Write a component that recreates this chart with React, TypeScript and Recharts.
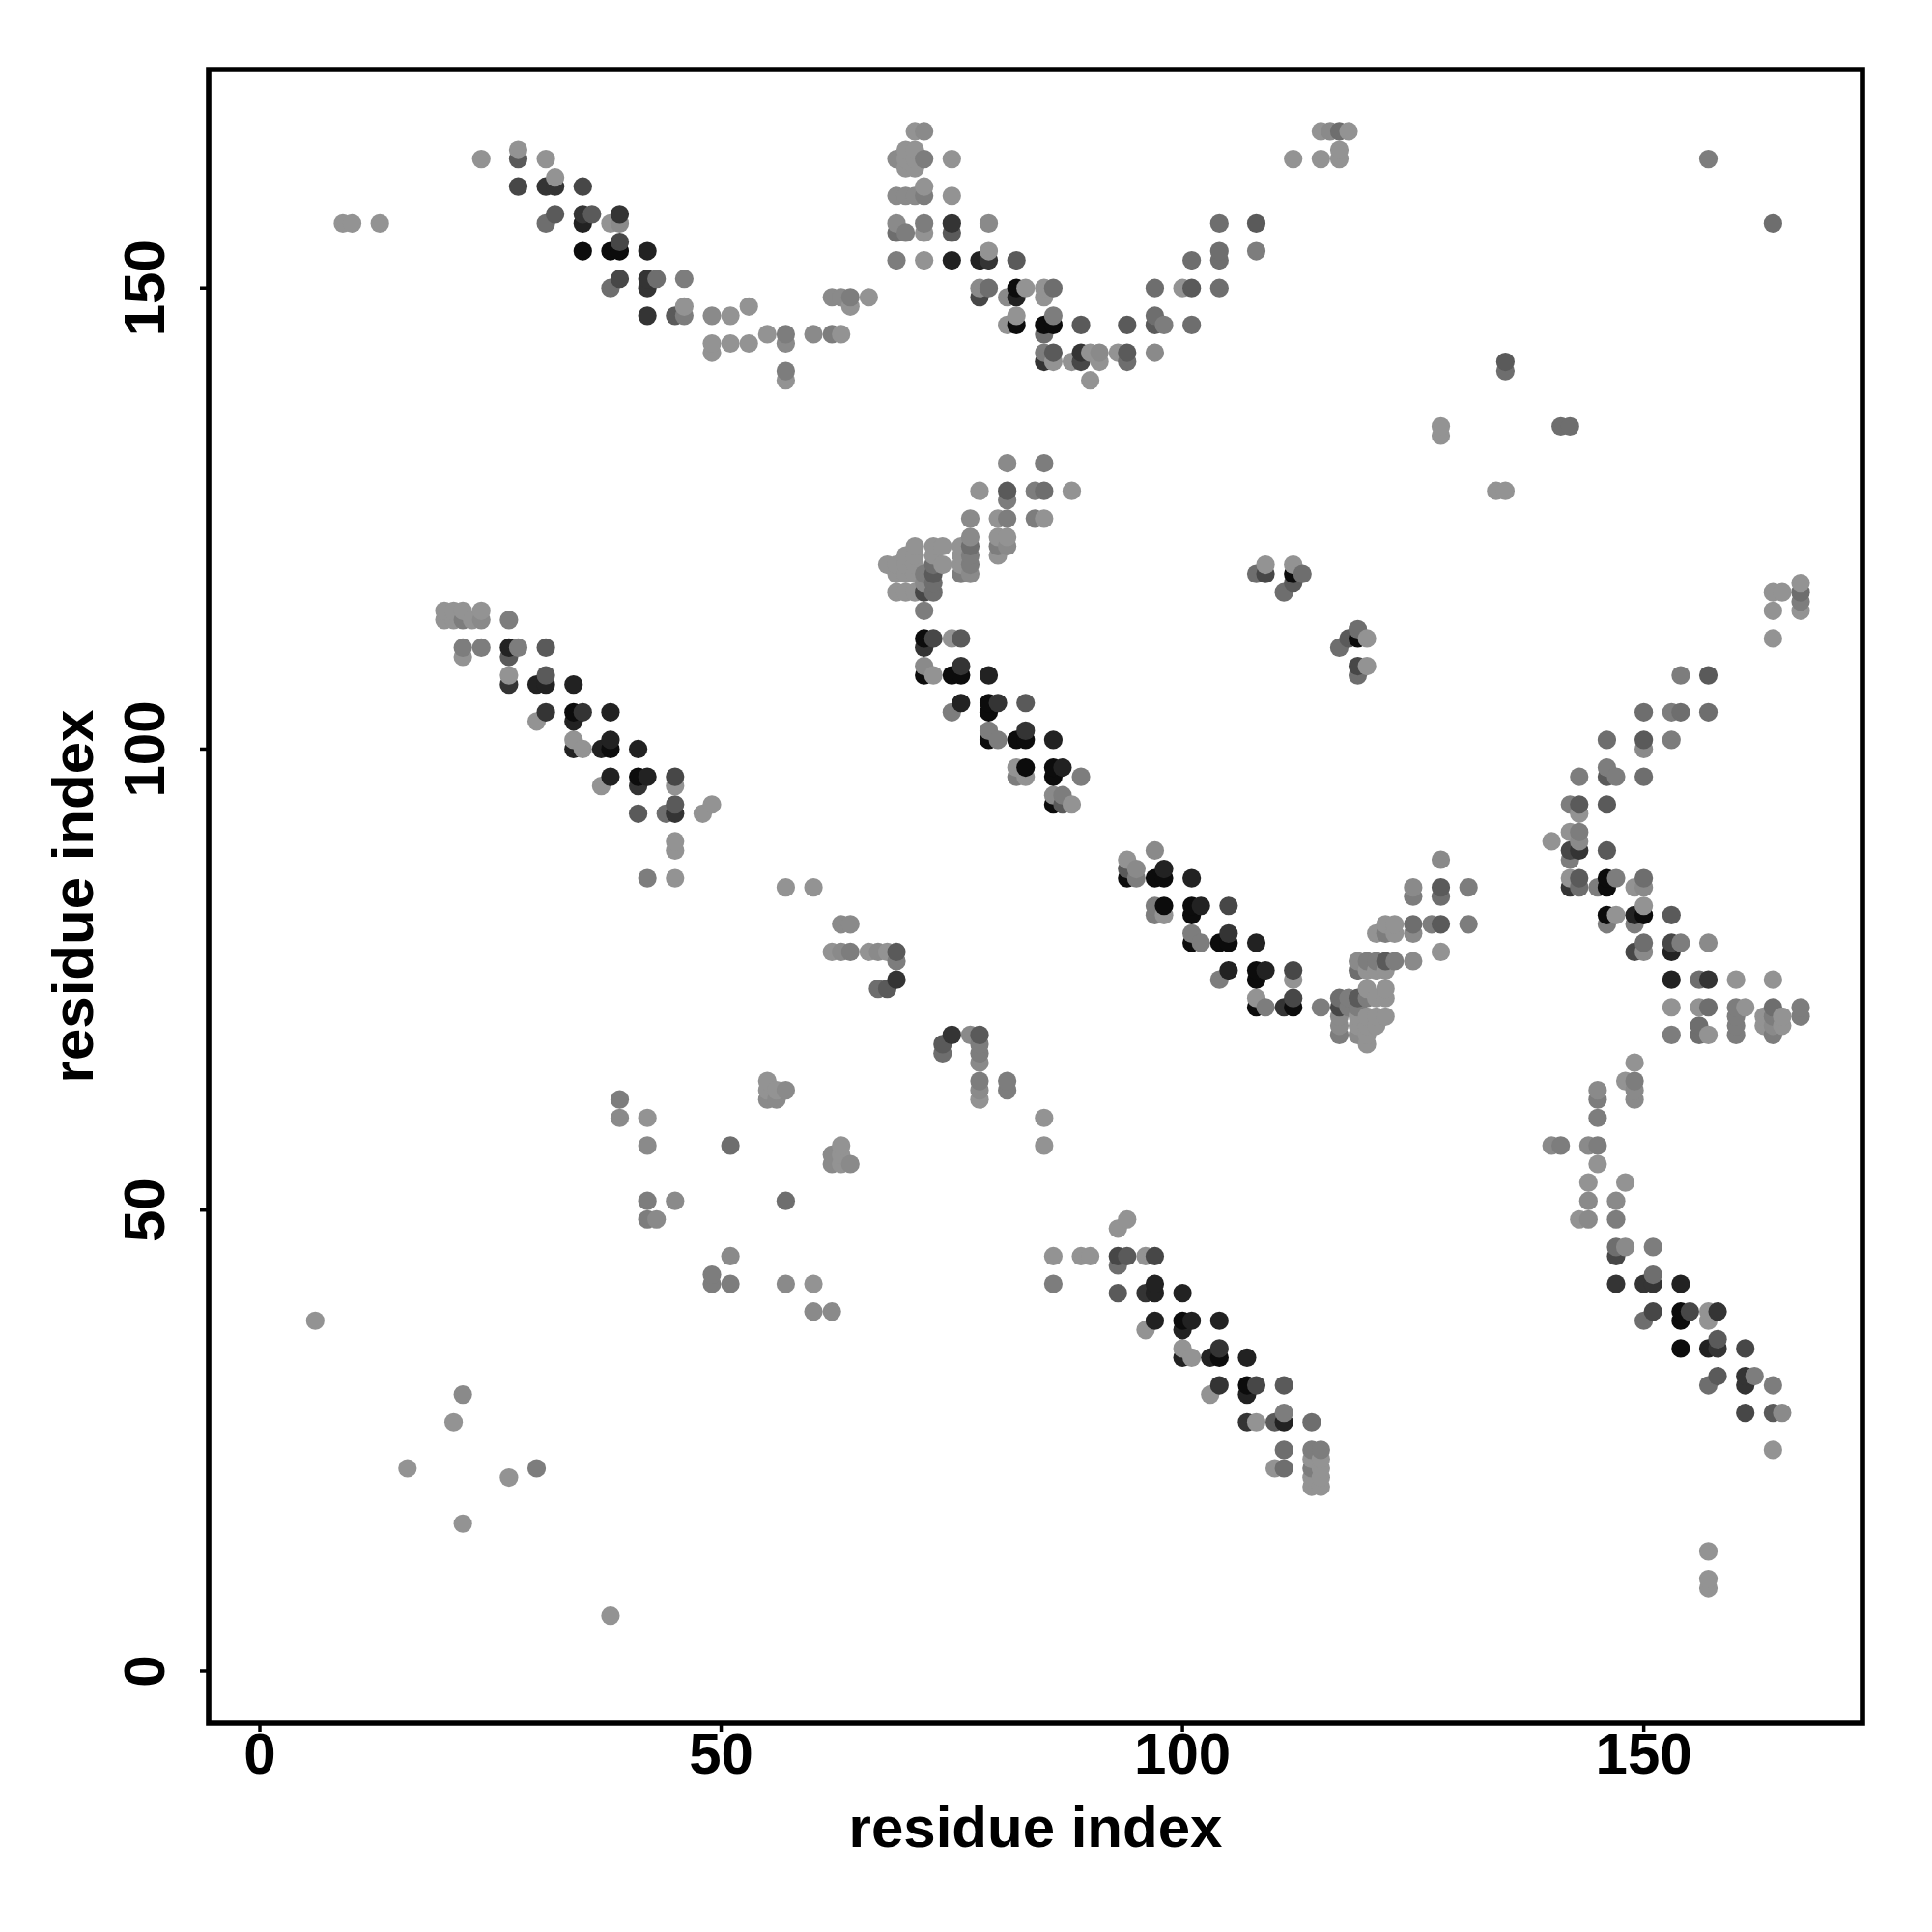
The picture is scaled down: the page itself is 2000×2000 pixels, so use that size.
import { ScatterChart, Scatter, XAxis, YAxis, Cell, ReferenceArea } from 'recharts'

type Contact = [number, number, number] // residue i, residue j, contact weight 1..9

const X_TICKS = [0, 50, 100, 150]
const Y_TICKS = [0, 50, 100, 150]
const X_DOMAIN = [-5.55, 173.7]
const Y_DOMAIN = [-5.66, 173.7]
const AXIS_TITLE = 'residue index'
const GREYS = ['#939393', '#8a8a8a', '#7d7d7d', '#6e6e6e', '#5a5a5a', '#474747', '#343434', '#222222', '#0c0c0c']

const topLeftBand: Contact[] = [
  [9, 157, 1], [10, 157, 1], [13, 157, 1], [24, 164, 1], [28, 164, 5], [28, 165, 1], [31, 164, 1],
  [28, 161, 6], [31, 161, 7], [32, 161, 7], [32, 162, 1], [35, 161, 6], [32, 158, 5], [31, 157, 4],
  [35, 158, 7], [35, 157, 8], [36, 158, 5], [39, 158, 7], [38, 157, 1], [39, 157, 2],
  [35, 154, 9], [38, 154, 9], [39, 154, 9], [39, 155, 6], [42, 154, 8],
  [39, 151, 6], [38, 150, 4], [42, 151, 7], [42, 150, 7], [43, 151, 4], [46, 151, 3],
  [42, 147, 7], [45, 147, 5], [46, 147, 3], [46, 148, 1], [49, 147, 2], [51, 147, 1], [53, 148, 1],
  [49, 144, 1], [49, 143, 1], [51, 144, 1], [53, 144, 1], [55, 145, 1], [57, 145, 3], [57, 144, 2],
  [57, 141, 3], [57, 140, 1], [60, 145, 2], [62, 145, 3], [63, 145, 1],
  [62, 149, 2], [63, 149, 2], [64, 149, 3], [64, 148, 1], [66, 149, 1],
]

const topMiddleBand: Contact[] = [
  [71, 167, 1], [72, 167, 2], [69, 164, 2], [70, 165, 1], [71, 165, 1], [70, 163, 1], [71, 163, 1],
  [70, 164, 1], [71, 164, 1], [72, 164, 3], [75, 164, 1],
  [69, 160, 2], [70, 160, 2], [71, 160, 2], [72, 160, 3], [72, 161, 1], [75, 160, 1],
  [69, 157, 2], [69, 156, 4], [70, 156, 3], [72, 157, 3], [72, 156, 1], [75, 157, 7], [75, 156, 5], [79, 157, 2],
  [69, 153, 3], [72, 153, 1], [75, 153, 8], [78, 153, 8], [79, 153, 7], [79, 154, 1], [82, 153, 5],
  [78, 150, 2], [79, 150, 4], [78, 149, 6], [82, 150, 9], [82, 149, 8], [81, 149, 2], [83, 150, 1],
  [85, 150, 1], [85, 149, 1], [86, 150, 4], [81, 146, 1], [82, 146, 9], [82, 147, 1], [85, 146, 9],
  [86, 146, 9], [86, 147, 3], [85, 145, 4], [89, 146, 5], [94, 146, 5], [97, 147, 4], [97, 146, 5],
  [98, 146, 3], [101, 146, 4], [97, 150, 4], [100, 150, 1], [101, 150, 5], [104, 150, 4],
  [101, 153, 4], [104, 154, 4], [104, 153, 4], [108, 154, 3], [104, 157, 4], [108, 157, 5],
  [115, 167, 1], [116, 167, 2], [117, 167, 4], [118, 167, 1], [112, 164, 1], [115, 164, 1], [117, 164, 1], [117, 165, 1],
  [85, 143, 3], [86, 143, 5], [85, 142, 7], [86, 142, 1], [88, 142, 1], [89, 143, 7], [89, 142, 6],
  [90, 143, 1], [91, 143, 2], [91, 142, 1], [93, 143, 1], [94, 143, 5], [94, 142, 4], [97, 143, 2], [90, 140, 1],
]

const centreBand: Contact[] = [
  [81, 131, 2], [85, 131, 3], [78, 128, 1], [81, 128, 5], [81, 127, 3], [84, 128, 3], [85, 128, 4], [88, 128, 1],
  [77, 125, 2], [80, 125, 1], [81, 125, 3], [84, 125, 3], [85, 125, 1],
  [77, 123, 2], [77, 122, 4], [76, 122, 1], [77, 121, 3], [76, 121, 1], [77, 120, 3], [76, 120, 1], [76, 119, 3], [77, 119, 2],
  [80, 123, 1], [81, 123, 1], [80, 122, 3], [81, 122, 2], [80, 121, 1],
  [71, 122, 1], [70, 121, 1], [71, 121, 1], [68, 120, 1], [69, 120, 1], [70, 120, 1], [71, 120, 1],
  [69, 119, 1], [70, 119, 1], [71, 119, 1], [73, 122, 1], [74, 122, 1], [73, 121, 1], [73, 120, 4], [74, 120, 1],
  [73, 119, 5], [72, 119, 3], [72, 118, 2], [73, 118, 4], [69, 117, 1], [70, 117, 1], [71, 117, 1], [72, 117, 6], [73, 117, 4],
  [72, 115, 3], [72, 112, 9], [73, 112, 6], [72, 111, 7], [75, 112, 1], [76, 112, 5],
  [72, 109, 2], [72, 108, 9], [73, 108, 1], [75, 108, 9], [76, 108, 9], [76, 109, 7], [79, 108, 8],
  [76, 105, 8], [75, 104, 3], [79, 105, 9], [80, 105, 7], [79, 104, 9], [83, 105, 5],
  [79, 102, 3], [80, 101, 3], [79, 101, 9], [82, 101, 9], [83, 101, 9], [83, 102, 7], [86, 101, 8],
  [82, 98, 1], [82, 97, 3], [83, 98, 9], [83, 97, 1], [86, 98, 9], [87, 98, 8], [86, 97, 9], [89, 97, 3],
  [86, 95, 2], [87, 95, 3], [86, 94, 9], [87, 94, 5], [88, 94, 1],
  [108, 119, 4], [109, 120, 1], [109, 119, 6], [112, 120, 1], [112, 119, 9], [113, 119, 4], [112, 118, 5], [111, 117, 4],
  [119, 113, 4], [118, 112, 5], [119, 112, 9], [120, 112, 1], [117, 111, 4], [119, 109, 6], [120, 109, 1], [119, 108, 4],
]

const leftBand: Contact[] = [
  [20, 115, 1], [20, 114, 1], [21, 115, 1], [21, 114, 1], [22, 115, 1], [22, 114, 3], [23, 114, 1], [24, 115, 1], [24, 114, 2], [27, 114, 3],
  [22, 111, 3], [22, 110, 1], [24, 111, 3], [27, 111, 8], [27, 110, 5], [28, 111, 3], [31, 111, 5],
  [27, 108, 1], [27, 107, 7], [30, 107, 8], [31, 107, 8], [31, 108, 5], [34, 107, 8],
  [31, 104, 7], [30, 103, 1], [34, 104, 9], [34, 103, 8], [35, 104, 7], [38, 104, 8],
  [34, 101, 1], [35, 100, 1], [34, 100, 8], [37, 100, 8], [38, 100, 9], [38, 101, 8], [41, 100, 8],
  [38, 97, 8], [37, 96, 1], [41, 97, 9], [42, 97, 8], [41, 96, 7], [45, 97, 6], [45, 96, 1],
  [41, 93, 5], [44, 93, 4], [45, 94, 5], [45, 93, 7], [48, 93, 1], [49, 94, 1],
  [45, 90, 1], [45, 89, 1], [42, 86, 3], [45, 86, 1], [57, 85, 1], [60, 85, 1],
]

const lowerCentreBand: Contact[] = [
  [97, 89, 2], [94, 88, 1], [94, 87, 5], [95, 87, 2], [94, 86, 9], [95, 86, 3], [97, 86, 9], [98, 86, 9], [98, 87, 8], [101, 86, 8],
  [97, 83, 3], [97, 82, 3], [98, 83, 9], [98, 82, 1], [101, 83, 9], [102, 83, 8], [101, 82, 9], [105, 83, 6],
  [101, 80, 3], [102, 79, 3], [101, 79, 9], [104, 79, 9], [105, 79, 9], [105, 80, 7], [108, 79, 8],
  [105, 76, 8], [104, 75, 3], [108, 76, 9], [109, 76, 8], [108, 75, 9], [112, 76, 6], [112, 75, 1],
  [108, 73, 1], [109, 72, 3], [108, 72, 9], [111, 72, 7], [112, 72, 9], [112, 73, 6], [115, 72, 3],
  [117, 73, 4], [117, 72, 6], [117, 71, 2], [117, 70, 2], [117, 69, 3],
  [118, 73, 3], [118, 72, 3], [119, 73, 5], [119, 72, 3], [120, 74, 1], [120, 73, 3], [121, 73, 1], [122, 74, 1], [122, 73, 1],
  [119, 71, 1], [119, 70, 1], [119, 69, 2], [120, 71, 1], [120, 70, 1], [120, 69, 1], [120, 68, 1], [121, 71, 1], [121, 70, 1], [122, 71, 1],
  [119, 77, 2], [119, 76, 4], [120, 77, 3], [120, 76, 1], [121, 77, 3], [121, 76, 1], [122, 77, 5], [122, 76, 1], [123, 77, 3], [125, 77, 2], [128, 78, 1],
  [121, 80, 1], [122, 81, 1], [122, 80, 3], [123, 81, 1], [123, 80, 1], [125, 81, 4], [125, 80, 2], [127, 81, 3], [128, 81, 5], [131, 81, 3],
  [125, 85, 2], [125, 84, 3], [128, 85, 5], [128, 84, 4], [131, 85, 3], [128, 88, 2],
]

const rightBand: Contact[] = [
  [164, 117, 1], [165, 117, 1], [167, 118, 1], [167, 117, 4], [167, 116, 3], [167, 115, 1], [164, 115, 1], [164, 112, 1],
  [154, 108, 3], [157, 108, 5], [150, 104, 4], [153, 104, 3], [154, 104, 4], [157, 104, 4],
  [146, 101, 4], [150, 101, 5], [150, 100, 2], [153, 101, 3], [146, 98, 3], [143, 97, 3], [146, 97, 5], [147, 97, 3], [150, 97, 4],
  [142, 94, 3], [143, 94, 5], [143, 93, 1], [146, 94, 5], [140, 90, 1], [142, 91, 1], [143, 91, 3], [143, 90, 2],
  [142, 89, 6], [143, 89, 7], [142, 88, 3], [146, 89, 5],
  [142, 86, 1], [142, 85, 7], [143, 86, 5], [143, 85, 4], [145, 85, 3], [146, 86, 9], [146, 85, 9], [147, 86, 3], [149, 85, 1], [150, 86, 4], [150, 85, 2],
  [146, 82, 9], [146, 81, 3], [147, 82, 1], [149, 82, 8], [149, 81, 3], [150, 82, 9], [150, 83, 1], [153, 82, 5],
  [150, 79, 4], [149, 78, 6], [150, 78, 2], [153, 79, 6], [153, 78, 8], [154, 79, 3], [157, 79, 2],
  [153, 75, 8], [156, 75, 4], [157, 75, 7], [160, 75, 1], [164, 75, 1],
  [153, 72, 1], [156, 72, 1], [157, 72, 4], [160, 72, 3], [161, 72, 1], [164, 72, 4], [167, 72, 3], [167, 71, 3],
  [160, 71, 3], [160, 70, 3], [160, 69, 3], [163, 71, 1], [163, 70, 1], [164, 71, 3], [164, 70, 2], [164, 69, 3], [165, 71, 1], [165, 70, 1],
  [153, 69, 3], [156, 70, 4], [156, 69, 4], [157, 69, 1],
]

const scatteredMiddle: Contact[] = [
  [63, 81, 2], [64, 81, 2], [62, 78, 1], [63, 78, 2], [64, 78, 3], [66, 78, 1], [67, 78, 2], [68, 78, 1], [69, 78, 5], [69, 77, 3],
  [69, 75, 7], [67, 74, 4], [68, 74, 5], [75, 69, 7], [74, 68, 5], [74, 67, 4], [77, 69, 2], [78, 69, 5], [78, 68, 3], [78, 67, 3], [78, 66, 2],
  [78, 64, 3], [78, 63, 2], [78, 62, 1], [81, 64, 3], [81, 63, 3], [85, 60, 1], [85, 57, 1],
  [39, 62, 3], [39, 60, 2], [42, 60, 1], [42, 57, 2], [51, 57, 4], [57, 51, 4], [42, 51, 3], [45, 51, 2], [42, 49, 3], [43, 49, 2],
  [55, 64, 1], [55, 63, 1], [55, 62, 2], [56, 63, 1], [56, 62, 2], [57, 63, 2],
  [63, 57, 1], [62, 56, 2], [63, 56, 1], [62, 55, 2], [63, 55, 1], [64, 55, 2],
  [51, 45, 2], [49, 43, 3], [49, 42, 3], [51, 42, 3], [57, 42, 2], [60, 42, 1], [60, 39, 2], [62, 39, 2],
]

const bottomCentreBand: Contact[] = [
  [94, 49, 1], [93, 48, 1], [86, 45, 1], [89, 45, 1], [90, 45, 1], [93, 45, 6], [94, 45, 5], [93, 44, 4], [96, 45, 1], [97, 45, 6],
  [86, 42, 3], [93, 41, 5], [96, 41, 7], [97, 42, 8], [97, 41, 8], [100, 41, 8],
  [97, 38, 8], [96, 37, 1], [100, 38, 9], [100, 37, 8], [101, 38, 8], [104, 38, 8],
  [100, 35, 1], [101, 34, 1], [100, 34, 8], [103, 34, 8], [104, 34, 9], [104, 35, 7], [107, 34, 8],
  [104, 31, 7], [103, 30, 1], [107, 31, 9], [107, 30, 8], [108, 31, 6], [111, 31, 5],
  [107, 27, 7], [108, 27, 1], [110, 27, 5], [111, 27, 8], [111, 28, 3], [114, 27, 4],
  [111, 24, 4], [110, 22, 1], [111, 22, 4], [114, 24, 3], [115, 24, 3],
  [114, 23, 1], [114, 22, 3], [114, 21, 1], [114, 20, 1], [115, 23, 1], [115, 22, 1], [115, 21, 1], [115, 20, 1],
]

const bottomRightBand: Contact[] = [
  [149, 66, 1], [148, 64, 1], [149, 64, 3], [149, 63, 2], [149, 62, 2], [145, 63, 2], [145, 62, 3], [145, 60, 3],
  [140, 57, 2], [141, 57, 3], [144, 57, 2], [145, 57, 3], [145, 55, 1], [144, 53, 1], [148, 53, 1], [144, 51, 2], [147, 51, 2],
  [143, 49, 1], [144, 49, 2], [147, 49, 3], [147, 46, 4], [148, 46, 2], [147, 45, 6], [151, 46, 3],
  [147, 42, 7], [150, 42, 7], [151, 42, 7], [151, 43, 4], [154, 42, 8],
  [151, 39, 6], [150, 38, 4], [154, 39, 9], [154, 38, 9], [155, 39, 6], [157, 39, 1], [157, 38, 1], [158, 39, 7],
  [154, 35, 9], [157, 35, 8], [158, 35, 7], [158, 36, 5], [161, 35, 6],
  [158, 32, 5], [157, 31, 4], [161, 32, 7], [161, 31, 7], [162, 32, 3], [164, 31, 3],
  [161, 28, 6], [164, 28, 5], [165, 28, 2], [164, 24, 1],
]

const isolated: Contact[] = [
  [16, 22, 1], [30, 22, 3], [27, 21, 1], [22, 16, 1], [38, 6, 1], [6, 38, 1], [22, 30, 2], [21, 27, 1],
  [157, 164, 3], [164, 157, 4], [135, 142, 5], [135, 141, 4], [141, 135, 4], [142, 135, 4],
  [128, 135, 1], [128, 134, 1], [134, 128, 1], [135, 128, 1], [157, 13, 1], [157, 10, 1], [157, 9, 1],
]

// later residues paint over earlier ones, same as the original plot order
const contacts = [
  ...topLeftBand, ...topMiddleBand, ...centreBand, ...leftBand, ...lowerCentreBand,
  ...rightBand, ...scatteredMiddle, ...bottomCentreBand, ...bottomRightBand, ...isolated,
]
  .sort((a, b) => a[0] - b[0] || a[1] - b[1])
  .map(([i, j, weight]) => ({ i, j, weight }))

const titleStyle = { fontFamily: '"Liberation Sans", sans-serif', fontWeight: 700, fontSize: 60, fill: '#000' }

const XTick = ({ x, y, payload }: any) => (
  <text x={x} y={y + 41} textAnchor="middle" style={titleStyle}>
    {payload.value}
  </text>
)

const YTick = ({ x, y, payload }: any) => (
  <text x={x - 35} y={y} textAnchor="middle" transform={`rotate(-90 ${x - 35} ${y})`} style={titleStyle}>
    {payload.value}
  </text>
)

export default function App() {
  return (
    <div style={{ position: 'absolute', left: 0, top: 0, width: 2000, height: 2000, background: '#fff' }}>
      <ScatterChart width={2000} height={2000} margin={{ top: 72, right: 72, bottom: 96, left: 16 }}>
        <XAxis
          type="number"
          dataKey="i"
          domain={X_DOMAIN}
          ticks={X_TICKS}
          allowDataOverflow
          axisLine={false}
          tickLine={{ stroke: '#000', strokeWidth: 3.5 }}
          tickSize={9}
          height={120}
          tick={<XTick />}
          label={{ value: AXIS_TITLE, position: 'bottom', offset: -35, style: titleStyle }}
        />
        <YAxis
          type="number"
          dataKey="j"
          domain={Y_DOMAIN}
          ticks={Y_TICKS}
          allowDataOverflow
          axisLine={false}
          tickLine={{ stroke: '#000', strokeWidth: 3.5 }}
          tickSize={9}
          width={200}
          tick={<YTick />}
          label={{ value: AXIS_TITLE, angle: -90, position: 'insideLeft', offset: 59, style: { ...titleStyle, textAnchor: 'middle' } }}
        />
        <Scatter
          data={contacts}
          isAnimationActive={false}
          shape={({ cx, cy, fill }: any) => <circle cx={cx} cy={cy} r={9.6} fill={fill} />}
        >
          {contacts.map((c, index) => (
            <Cell key={`cell-${index}`} fill={GREYS[c.weight - 1]} />
          ))}
        </Scatter>
        <ReferenceArea
          x1={X_DOMAIN[0]}
          x2={X_DOMAIN[1]}
          y1={Y_DOMAIN[0]}
          y2={Y_DOMAIN[1]}
          fill="none"
          stroke="#000"
          strokeWidth={5.6}
          ifOverflow="visible"
        />
      </ScatterChart>
    </div>
  )
}
